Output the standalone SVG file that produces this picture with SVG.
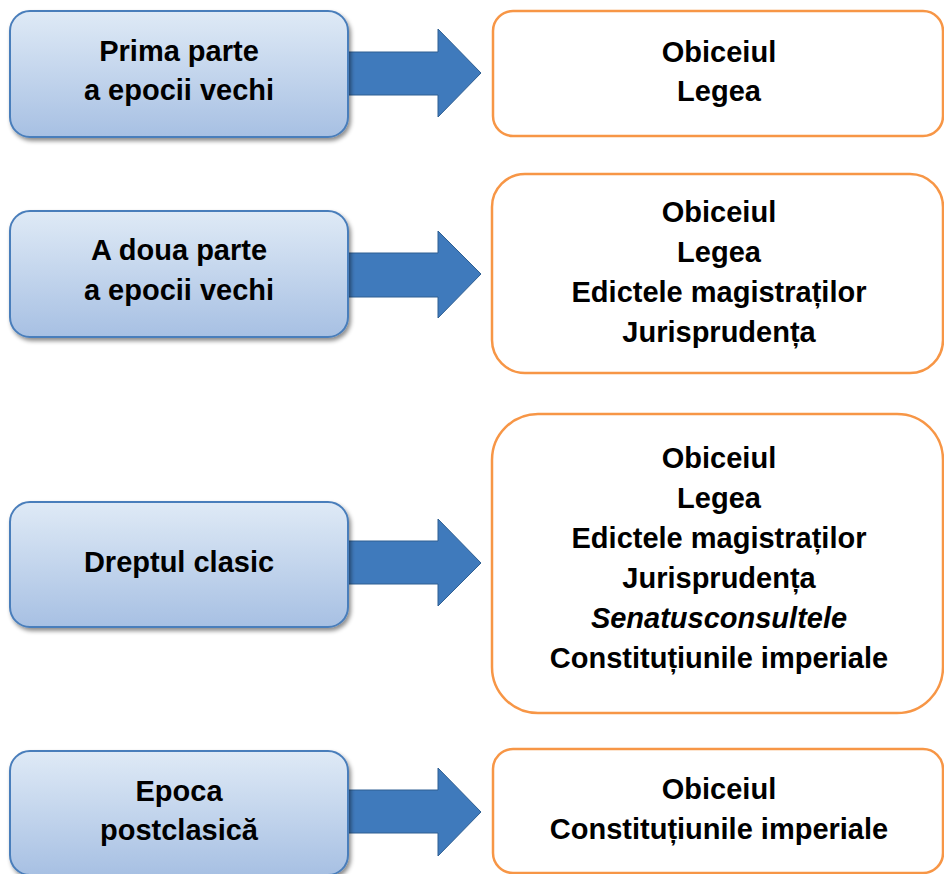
<svg xmlns="http://www.w3.org/2000/svg" width="944" height="874" viewBox="0 0 944 874">
<defs>
<linearGradient id="g" x1="0" y1="0" x2="0" y2="1">
<stop offset="0" stop-color="#dfeaf6"/>
<stop offset="1" stop-color="#a7c0e3"/>
</linearGradient>
<filter id="sh" x="-10%" y="-10%" width="125%" height="135%">
<feDropShadow dx="2" dy="3" stdDeviation="2" flood-color="#000" flood-opacity="0.45"/>
</filter>
</defs>
<style>
.l{fill:url(#g);stroke:#4a7ebb;stroke-width:2;filter:url(#sh)}
.r{fill:#fff;stroke:#f79646;stroke-width:2.5}
.a{fill:#3f7abc;stroke:#2f5f92;stroke-width:1}
text{font-family:"Liberation Sans",Arial,sans-serif;font-weight:bold;font-size:29px;fill:#000;text-anchor:middle}
.i{font-style:italic}
</style>
<rect width="944" height="874" fill="#fff"/>
<g id="connectors">
<path class="a" d="M348 52H438V29L481 73L438 117V95H348Z"/>
<path class="a" d="M348 253H438V231L481 274L438 318V297H348Z"/>
<path class="a" d="M348 541H438V519L481 563L438 606V584H348Z"/>
<path class="a" d="M348 790H438V768L481 812L438 856V833H348Z"/>
</g>
<g id="n1">
<rect class="l" x="10" y="11" width="338" height="126" rx="20"/>
<text x="179" y="61">Prima parte</text>
<text x="179" y="100">a epocii vechi</text>
</g>
<g id="n2">
<rect class="l" x="10" y="211" width="338" height="126" rx="20"/>
<text x="179" y="260">A doua parte</text>
<text x="179" y="300">a epocii vechi</text>
</g>
<g id="n3">
<rect class="l" x="10" y="502" width="338" height="125" rx="20"/>
<text x="179" y="572">Dreptul clasic</text>
</g>
<g id="n4">
<rect class="l" x="10" y="751" width="338" height="124" rx="20"/>
<text x="179" y="801">Epoca</text>
<text x="179" y="840">postclasică</text>
</g>
<g id="r1">
<rect class="r" x="493" y="11" width="450" height="125" rx="20"/>
<text x="719" y="62">Obiceiul</text>
<text x="719" y="101">Legea</text>
</g>
<g id="r2">
<rect class="r" x="492" y="174" width="451" height="199" rx="33"/>
<text x="719" y="222">Obiceiul</text>
<text x="719" y="262">Legea</text>
<text x="719" y="302">Edictele magistraților</text>
<text x="719" y="342">Jurisprudența</text>
</g>
<g id="r3">
<rect class="r" x="492" y="414" width="451" height="299" rx="46"/>
<text x="719" y="468">Obiceiul</text>
<text x="719" y="508">Legea</text>
<text x="719" y="548">Edictele magistraților</text>
<text x="719" y="588">Jurisprudența</text>
<text x="719" y="628" class="i">Senatusconsultele</text>
<text x="719" y="668">Constituțiunile imperiale</text>
</g>
<g id="r4">
<rect class="r" x="493" y="749" width="450" height="124" rx="20"/>
<text x="719" y="799">Obiceiul</text>
<text x="719" y="839">Constituțiunile imperiale</text>
</g>
</svg>
